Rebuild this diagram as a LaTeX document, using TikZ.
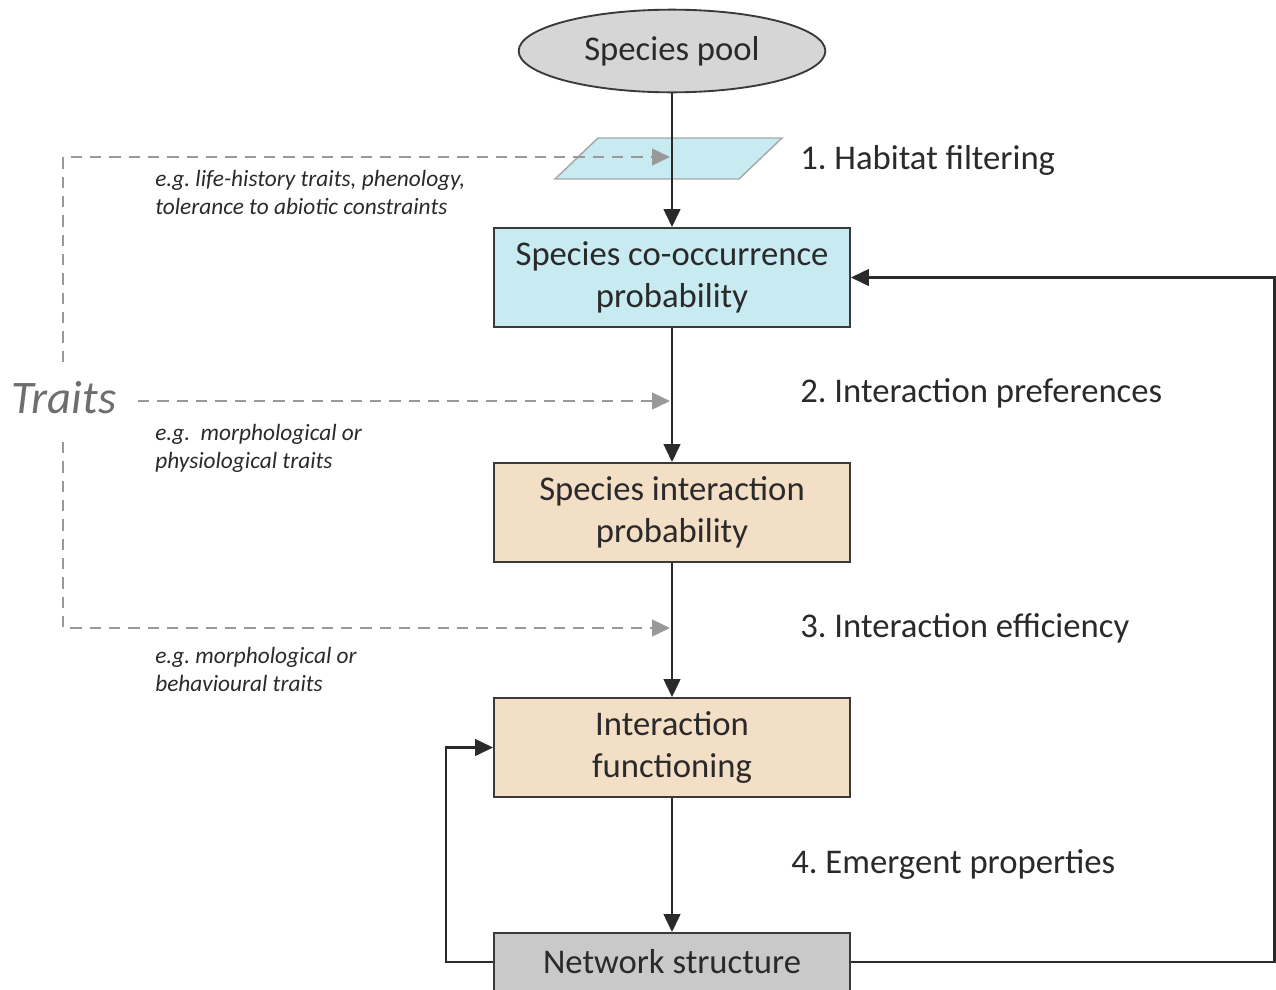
\documentclass[tikz,border=0pt]{standalone}
\usepackage{fontspec}
\setmainfont{Carlito}
\frenchspacing
\usetikzlibrary{arrows.meta,shapes.geometric}
\definecolor{txt}{HTML}{2A2A2A}
\definecolor{edge}{HTML}{3A3A3A}
\definecolor{cyanfill}{HTML}{C7EBF1}
\definecolor{peach}{HTML}{F3DEC6}
\definecolor{greyfill}{HTML}{C9C9C9}
\definecolor{poolfill}{HTML}{D6D6D6}
\definecolor{dashgrey}{HTML}{999999}
\definecolor{traitgrey}{HTML}{6E6E6E}
\definecolor{paraedge}{HTML}{A8A8A8}
\tikzset{
  mainfont/.style={font=\fontsize{26}{31.5}\selectfont\frenchspacing, text=txt},
  boxnode/.style={mainfont, draw=edge, line width=1.4pt, rectangle, align=center,
    minimum width=267pt, minimum height=74.25pt, inner sep=0pt},
  flowarrow/.style={draw=txt, line width=1.8pt, -{Triangle[length=13.5pt,width=12.5pt]}},
  traitarrow/.style={draw=dashgrey, line width=1.9pt, dash pattern=on 8.5pt off 6pt,
    -{Triangle[length=13.5pt,width=12.5pt,fill=dashgrey]}},
  steplabel/.style={mainfont, anchor=base west, inner sep=0pt},
  example/.style={font=\fontsize{17.5}{21}\selectfont\itshape\frenchspacing, text=txt, align=left,
    anchor=base west, inner sep=0pt},
}
\begin{document}
\begin{tikzpicture}[x=0.75pt,y=-0.75pt]
\useasboundingbox (0,0) rectangle (1276,989);
\clip (0,0) rectangle (1276,989);

% habitat filter (parallelogram)
\filldraw[fill=cyanfill, draw=paraedge, line width=1.1pt]
  (598,138) -- (782,138) -- (739,179) -- (555,179) -- cycle;

% nodes
\node[mainfont, ellipse, draw=edge, line width=1.4pt, fill=poolfill,
  minimum width=230pt, minimum height=62pt, inner sep=0pt] (pool) at (672,51) {Species pool};
\node[boxnode, fill=cyanfill] (cooc) at (672,277.5) {Species co-occurrence\\probability};
\node[boxnode, fill=peach] (inter) at (672,512.5) {Species interaction\\probability};
\node[boxnode, fill=peach] (func) at (672,747.5) {Interaction\\functioning};
\node[boxnode, fill=greyfill, minimum height=43.5pt] (net) at (672,962) {Network structure};

% trait annotations
\node[font=\fontsize{35}{38}\selectfont\itshape, text=traitgrey, anchor=base west, inner sep=0pt]
  (traits) at (11,413) {Traits};
\node[example] (ex1) at (155,214) {e.g. life-history traits, phenology,\\tolerance to abiotic constraints};
\node[example] (ex2) at (155,468) {e.g.\ \ morphological or\\physiological traits};
\node[example] (ex3) at (155,691) {e.g. morphological or\\behavioural traits};

% step labels
\node[steplabel] (s1) at (800,169) {1. Habitat filtering};
\node[steplabel] (s2) at (800,402) {2. Interaction preferences};
\node[steplabel] (s3) at (800,637) {3. Interaction efficiency};
\node[steplabel] (s4) at (791,873) {4. Emergent properties};

% dashed trait connectors
\coordinate (vtop) at (63,362);
\coordinate (vbot) at (63,442);
\coordinate (tip1) at (670,157);
\coordinate (hstart) at (138,401);
\coordinate (tip2) at (670,401);
\coordinate (tip3) at (670,628);
\draw[traitarrow] (vtop) -- (63,157) -- (tip1);
\draw[traitarrow] (hstart) -- (tip2);
\draw[traitarrow] (vbot) -- (63,628) -- (tip3);

% main flow
\draw[flowarrow] (pool.south) -- (cooc.north);
\draw[flowarrow] (cooc.south) -- (inter.north);
\draw[flowarrow] (inter.south) -- (func.north);
\draw[flowarrow] (func.south) -- (net.north);

% feedbacks
\draw[flowarrow] (net.east) -- (1274.5,962) -- (1274.5,277.5) -- (cooc.east);
\draw[flowarrow] (net.west) -- (446,962) -- (446,747.5) -- (func.west);
\end{tikzpicture}
\end{document}
